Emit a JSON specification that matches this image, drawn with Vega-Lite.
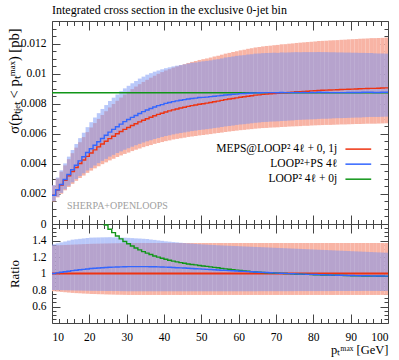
{
"$schema":"https://vega.github.io/schema/vega-lite/v6.json",
"padding":{"left":5,"top":3,"right":13,"bottom":7},
"spacing":0,
"bounds":"flush",
"config":{"font":"Liberation Serif","view":{"stroke":null},"axis":{"domainColor":"#444","tickColor":"#444","labelFont":"Liberation Serif","labelFontSize":11.5,"labelColor":"#000","grid":false,"titleFont":"Liberation Serif","titleFontWeight":"normal","titleColor":"#000","titleFontSize":12,"zindex":1},"text":{"font":"Liberation Serif"}},
"datasets":{"h":[
{"x":10,"x2":11,"r":0.00191,"b":0.00191,"g":0.00873,"rl":0.0015,"rh":0.00256,"bl":0.00153,"bh":0.00259,"qb":1,"qg":4.571,"qrl":0.785,"qrh":1.34,"qbl":0.8,"qbh":1.355},
{"x":11,"x2":12,"r":0.00226,"b":0.00228,"g":0.00873,"rl":0.00177,"rh":0.00303,"bl":0.00181,"bh":0.00309,"qb":1.008,"qg":3.863,"qrl":0.781,"qrh":1.342,"qbl":0.799,"qbh":1.366},
{"x":12,"x2":13,"r":0.00259,"b":0.00263,"g":0.00873,"rl":0.00201,"rh":0.00348,"bl":0.00207,"bh":0.00357,"qb":1.015,"qg":3.371,"qrl":0.777,"qrh":1.344,"qbl":0.798,"qbh":1.377},
{"x":13,"x2":14,"r":0.0029,"b":0.00296,"g":0.00873,"rl":0.00224,"rh":0.0039,"bl":0.00231,"bh":0.00403,"qb":1.022,"qg":3.01,"qrl":0.773,"qrh":1.346,"qbl":0.797,"qbh":1.388},
{"x":14,"x2":15,"r":0.0032,"b":0.00329,"g":0.00873,"rl":0.00246,"rh":0.00431,"bl":0.00255,"bh":0.00448,"qb":1.028,"qg":2.728,"qrl":0.769,"qrh":1.348,"qbl":0.796,"qbh":1.399},
{"x":15,"x2":16,"r":0.00349,"b":0.00361,"g":0.00873,"rl":0.00267,"rh":0.00471,"bl":0.00277,"bh":0.00492,"qb":1.035,"qg":2.501,"qrl":0.765,"qrh":1.35,"qbl":0.795,"qbh":1.41},
{"x":16,"x2":17,"r":0.00376,"b":0.00391,"g":0.00873,"rl":0.00287,"rh":0.00508,"bl":0.00299,"bh":0.00532,"qb":1.04,"qg":2.322,"qrl":0.762,"qrh":1.352,"qbl":0.794,"qbh":1.415},
{"x":17,"x2":18,"r":0.00402,"b":0.0042,"g":0.00873,"rl":0.00306,"rh":0.00544,"bl":0.00319,"bh":0.00571,"qb":1.045,"qg":2.172,"qrl":0.76,"qrh":1.354,"qbl":0.793,"qbh":1.42},
{"x":18,"x2":19,"r":0.00426,"b":0.00447,"g":0.00873,"rl":0.00322,"rh":0.00578,"bl":0.00337,"bh":0.00607,"qb":1.05,"qg":2.049,"qrl":0.757,"qrh":1.356,"qbl":0.792,"qbh":1.425},
{"x":19,"x2":20,"r":0.0045,"b":0.00475,"g":0.00873,"rl":0.0034,"rh":0.00611,"bl":0.00356,"bh":0.00644,"qb":1.055,"qg":1.94,"qrl":0.755,"qrh":1.358,"qbl":0.791,"qbh":1.43},
{"x":20,"x2":21,"r":0.00472,"b":0.005,"g":0.00873,"rl":0.00355,"rh":0.00642,"bl":0.00373,"bh":0.00677,"qb":1.06,"qg":1.85,"qrl":0.752,"qrh":1.36,"qbl":0.79,"qbh":1.435},
{"x":21,"x2":22,"r":0.00493,"b":0.00524,"g":0.00873,"rl":0.0037,"rh":0.00671,"bl":0.00389,"bh":0.00708,"qb":1.063,"qg":1.771,"qrl":0.751,"qrh":1.361,"qbl":0.79,"qbh":1.436},
{"x":22,"x2":23,"r":0.00513,"b":0.00547,"g":0.00873,"rl":0.00384,"rh":0.00699,"bl":0.00405,"bh":0.00737,"qb":1.066,"qg":1.702,"qrl":0.749,"qrh":1.362,"qbl":0.789,"qbh":1.437},
{"x":23,"x2":24,"r":0.00532,"b":0.00569,"g":0.00873,"rl":0.00398,"rh":0.00725,"bl":0.0042,"bh":0.00765,"qb":1.069,"qg":1.641,"qrl":0.748,"qrh":1.363,"qbl":0.789,"qbh":1.438},
{"x":24,"x2":25,"r":0.0055,"b":0.0059,"g":0.00873,"rl":0.0041,"rh":0.0075,"bl":0.00433,"bh":0.00791,"qb":1.072,"qg":1.587,"qrl":0.746,"qrh":1.364,"qbl":0.788,"qbh":1.439},
{"x":25,"x2":26,"r":0.00568,"b":0.00611,"g":0.00873,"rl":0.00423,"rh":0.00775,"bl":0.00448,"bh":0.00818,"qb":1.075,"qg":1.537,"qrl":0.745,"qrh":1.365,"qbl":0.788,"qbh":1.44},
{"x":26,"x2":27,"r":0.00584,"b":0.00629,"g":0.00873,"rl":0.00434,"rh":0.00798,"bl":0.0046,"bh":0.0084,"qb":1.077,"qg":1.495,"qrl":0.744,"qrh":1.366,"qbl":0.787,"qbh":1.438},
{"x":27,"x2":28,"r":0.006,"b":0.00647,"g":0.00873,"rl":0.00446,"rh":0.0082,"bl":0.00472,"bh":0.00862,"qb":1.078,"qg":1.455,"qrl":0.743,"qrh":1.367,"qbl":0.787,"qbh":1.437},
{"x":28,"x2":29,"r":0.00615,"b":0.00664,"g":0.00873,"rl":0.00456,"rh":0.00841,"bl":0.00483,"bh":0.00883,"qb":1.08,"qg":1.42,"qrl":0.742,"qrh":1.368,"qbl":0.786,"qbh":1.435},
{"x":29,"x2":30,"r":0.00629,"b":0.00681,"g":0.00873,"rl":0.00466,"rh":0.00861,"bl":0.00494,"bh":0.00902,"qb":1.082,"qg":1.388,"qrl":0.741,"qrh":1.369,"qbl":0.786,"qbh":1.434},
{"x":30,"x2":31,"r":0.00642,"b":0.00695,"g":0.00873,"rl":0.00475,"rh":0.0088,"bl":0.00504,"bh":0.00919,"qb":1.083,"qg":1.36,"qrl":0.74,"qrh":1.37,"qbl":0.785,"qbh":1.432},
{"x":31,"x2":32,"r":0.00655,"b":0.00709,"g":0.00873,"rl":0.00485,"rh":0.00897,"bl":0.00514,"bh":0.00936,"qb":1.083,"qg":1.333,"qrl":0.74,"qrh":1.37,"qbl":0.785,"qbh":1.429},
{"x":32,"x2":33,"r":0.00667,"b":0.00722,"g":0.00873,"rl":0.00494,"rh":0.00914,"bl":0.00524,"bh":0.00951,"qb":1.083,"qg":1.309,"qrl":0.74,"qrh":1.37,"qbl":0.785,"qbh":1.426},
{"x":33,"x2":34,"r":0.00679,"b":0.00735,"g":0.00873,"rl":0.00502,"rh":0.0093,"bl":0.00533,"bh":0.00967,"qb":1.083,"qg":1.286,"qrl":0.74,"qrh":1.37,"qbl":0.785,"qbh":1.424},
{"x":34,"x2":35,"r":0.0069,"b":0.00747,"g":0.00873,"rl":0.00511,"rh":0.00945,"bl":0.00542,"bh":0.0098,"qb":1.083,"qg":1.265,"qrl":0.74,"qrh":1.37,"qbl":0.785,"qbh":1.421},
{"x":35,"x2":36,"r":0.007,"b":0.00758,"g":0.00873,"rl":0.00518,"rh":0.00959,"bl":0.0055,"bh":0.00993,"qb":1.083,"qg":1.247,"qrl":0.74,"qrh":1.37,"qbl":0.785,"qbh":1.418},
{"x":36,"x2":37,"r":0.0071,"b":0.00768,"g":0.00873,"rl":0.00525,"rh":0.00973,"bl":0.00557,"bh":0.01003,"qb":1.082,"qg":1.23,"qrl":0.74,"qrh":1.37,"qbl":0.785,"qbh":1.412},
{"x":37,"x2":38,"r":0.0072,"b":0.00778,"g":0.00873,"rl":0.00533,"rh":0.00986,"bl":0.00565,"bh":0.01013,"qb":1.081,"qg":1.213,"qrl":0.74,"qrh":1.37,"qbl":0.785,"qbh":1.407},
{"x":38,"x2":39,"r":0.00729,"b":0.00787,"g":0.00873,"rl":0.00539,"rh":0.00999,"bl":0.00572,"bh":0.01021,"qb":1.08,"qg":1.198,"qrl":0.74,"qrh":1.37,"qbl":0.785,"qbh":1.401},
{"x":39,"x2":40,"r":0.00737,"b":0.00794,"g":0.00873,"rl":0.00545,"rh":0.0101,"bl":0.00579,"bh":0.01029,"qb":1.078,"qg":1.185,"qrl":0.74,"qrh":1.37,"qbl":0.785,"qbh":1.396},
{"x":40,"x2":41,"r":0.00745,"b":0.00802,"g":0.00873,"rl":0.00551,"rh":0.01021,"bl":0.00585,"bh":0.01036,"qb":1.077,"qg":1.172,"qrl":0.74,"qrh":1.37,"qbl":0.785,"qbh":1.39},
{"x":41,"x2":42,"r":0.00752,"b":0.00808,"g":0.00873,"rl":0.00556,"rh":0.0103,"bl":0.0059,"bh":0.01042,"qb":1.075,"qg":1.161,"qrl":0.74,"qrh":1.37,"qbl":0.785,"qbh":1.386},
{"x":42,"x2":43,"r":0.00759,"b":0.00814,"g":0.00873,"rl":0.00562,"rh":0.0104,"bl":0.00596,"bh":0.01048,"qb":1.073,"qg":1.15,"qrl":0.74,"qrh":1.37,"qbl":0.785,"qbh":1.381},
{"x":43,"x2":44,"r":0.00765,"b":0.00819,"g":0.00873,"rl":0.00566,"rh":0.01048,"bl":0.00601,"bh":0.01053,"qb":1.07,"qg":1.141,"qrl":0.74,"qrh":1.37,"qbl":0.785,"qbh":1.377},
{"x":44,"x2":45,"r":0.00771,"b":0.00823,"g":0.00873,"rl":0.00571,"rh":0.01056,"bl":0.00605,"bh":0.01058,"qb":1.068,"qg":1.132,"qrl":0.74,"qrh":1.37,"qbl":0.785,"qbh":1.372},
{"x":45,"x2":46,"r":0.00776,"b":0.00827,"g":0.00873,"rl":0.00574,"rh":0.01063,"bl":0.00609,"bh":0.01062,"qb":1.066,"qg":1.125,"qrl":0.74,"qrh":1.37,"qbl":0.785,"qbh":1.368},
{"x":46,"x2":47,"r":0.00782,"b":0.00831,"g":0.00873,"rl":0.00579,"rh":0.01071,"bl":0.00614,"bh":0.01067,"qb":1.063,"qg":1.116,"qrl":0.74,"qrh":1.37,"qbl":0.785,"qbh":1.365},
{"x":47,"x2":48,"r":0.00787,"b":0.00835,"g":0.00873,"rl":0.00582,"rh":0.01078,"bl":0.00618,"bh":0.01072,"qb":1.061,"qg":1.109,"qrl":0.74,"qrh":1.37,"qbl":0.785,"qbh":1.362},
{"x":48,"x2":49,"r":0.00791,"b":0.00837,"g":0.00873,"rl":0.00585,"rh":0.01084,"bl":0.00621,"bh":0.01074,"qb":1.058,"qg":1.104,"qrl":0.74,"qrh":1.37,"qbl":0.785,"qbh":1.358},
{"x":49,"x2":50,"r":0.00796,"b":0.00841,"g":0.00873,"rl":0.00589,"rh":0.01091,"bl":0.00625,"bh":0.01079,"qb":1.056,"qg":1.097,"qrl":0.74,"qrh":1.37,"qbl":0.785,"qbh":1.355},
{"x":50,"x2":51,"r":0.008,"b":0.00842,"g":0.00873,"rl":0.00592,"rh":0.01096,"bl":0.00628,"bh":0.01082,"qb":1.053,"qg":1.091,"qrl":0.74,"qrh":1.37,"qbl":0.785,"qbh":1.352},
{"x":51,"x2":52,"r":0.00804,"b":0.00844,"g":0.00873,"rl":0.00595,"rh":0.01101,"bl":0.00631,"bh":0.01085,"qb":1.05,"qg":1.086,"qrl":0.74,"qrh":1.37,"qbl":0.785,"qbh":1.35},
{"x":52,"x2":53,"r":0.00808,"b":0.00847,"g":0.00873,"rl":0.00598,"rh":0.01107,"bl":0.00634,"bh":0.01088,"qb":1.048,"qg":1.08,"qrl":0.74,"qrh":1.37,"qbl":0.785,"qbh":1.347},
{"x":53,"x2":54,"r":0.00813,"b":0.0085,"g":0.00873,"rl":0.00602,"rh":0.01114,"bl":0.00638,"bh":0.01093,"qb":1.045,"qg":1.074,"qrl":0.74,"qrh":1.37,"qbl":0.785,"qbh":1.345},
{"x":54,"x2":55,"r":0.00817,"b":0.00852,"g":0.00873,"rl":0.00605,"rh":0.01119,"bl":0.00641,"bh":0.01096,"qb":1.043,"qg":1.069,"qrl":0.74,"qrh":1.37,"qbl":0.785,"qbh":1.342},
{"x":55,"x2":56,"r":0.00822,"b":0.00855,"g":0.00873,"rl":0.00608,"rh":0.01126,"bl":0.00645,"bh":0.01101,"qb":1.04,"qg":1.062,"qrl":0.74,"qrh":1.37,"qbl":0.785,"qbh":1.34},
{"x":56,"x2":57,"r":0.00827,"b":0.00858,"g":0.00873,"rl":0.00612,"rh":0.01133,"bl":0.00649,"bh":0.01107,"qb":1.038,"qg":1.056,"qrl":0.74,"qrh":1.37,"qbl":0.785,"qbh":1.338},
{"x":57,"x2":58,"r":0.00831,"b":0.0086,"g":0.00873,"rl":0.00615,"rh":0.01138,"bl":0.00652,"bh":0.0111,"qb":1.035,"qg":1.051,"qrl":0.74,"qrh":1.37,"qbl":0.785,"qbh":1.336},
{"x":58,"x2":59,"r":0.00835,"b":0.00863,"g":0.00873,"rl":0.00618,"rh":0.01144,"bl":0.00655,"bh":0.01114,"qb":1.033,"qg":1.046,"qrl":0.74,"qrh":1.37,"qbl":0.785,"qbh":1.334},
{"x":59,"x2":60,"r":0.00839,"b":0.00864,"g":0.00873,"rl":0.00621,"rh":0.01149,"bl":0.00659,"bh":0.01118,"qb":1.03,"qg":1.041,"qrl":0.74,"qrh":1.37,"qbl":0.785,"qbh":1.332},
{"x":60,"x2":61,"r":0.00843,"b":0.00867,"g":0.00873,"rl":0.00624,"rh":0.01155,"bl":0.00662,"bh":0.01121,"qb":1.028,"qg":1.036,"qrl":0.74,"qrh":1.37,"qbl":0.785,"qbh":1.33},
{"x":61,"x2":62,"r":0.00846,"b":0.00868,"g":0.00873,"rl":0.00626,"rh":0.01159,"bl":0.00664,"bh":0.01123,"qb":1.026,"qg":1.032,"qrl":0.74,"qrh":1.37,"qbl":0.785,"qbh":1.328},
{"x":62,"x2":63,"r":0.0085,"b":0.0087,"g":0.00873,"rl":0.00629,"rh":0.01165,"bl":0.00667,"bh":0.01127,"qb":1.023,"qg":1.027,"qrl":0.74,"qrh":1.37,"qbl":0.785,"qbh":1.326},
{"x":63,"x2":64,"r":0.00853,"b":0.00871,"g":0.00873,"rl":0.00631,"rh":0.01169,"bl":0.0067,"bh":0.01129,"qb":1.021,"qg":1.023,"qrl":0.74,"qrh":1.37,"qbl":0.785,"qbh":1.324},
{"x":64,"x2":65,"r":0.00857,"b":0.00872,"g":0.00873,"rl":0.00634,"rh":0.01174,"bl":0.00673,"bh":0.01133,"qb":1.018,"qg":1.019,"qrl":0.74,"qrh":1.37,"qbl":0.785,"qbh":1.322},
{"x":65,"x2":66,"r":0.00859,"b":0.00873,"g":0.00873,"rl":0.00636,"rh":0.01177,"bl":0.00675,"bh":0.01134,"qb":1.016,"qg":1.016,"qrl":0.74,"qrh":1.37,"qbl":0.786,"qbh":1.32},
{"x":66,"x2":67,"r":0.00862,"b":0.00874,"g":0.00873,"rl":0.00638,"rh":0.01181,"bl":0.00678,"bh":0.01136,"qb":1.014,"qg":1.013,"qrl":0.74,"qrh":1.37,"qbl":0.786,"qbh":1.318},
{"x":67,"x2":68,"r":0.00864,"b":0.00874,"g":0.00873,"rl":0.00639,"rh":0.01184,"bl":0.00679,"bh":0.01137,"qb":1.012,"qg":1.01,"qrl":0.74,"qrh":1.37,"qbl":0.786,"qbh":1.316},
{"x":68,"x2":69,"r":0.00866,"b":0.00874,"g":0.00873,"rl":0.00641,"rh":0.01186,"bl":0.00681,"bh":0.01138,"qb":1.009,"qg":1.008,"qrl":0.74,"qrh":1.37,"qbl":0.786,"qbh":1.314},
{"x":69,"x2":70,"r":0.00868,"b":0.00874,"g":0.00873,"rl":0.00642,"rh":0.01189,"bl":0.00682,"bh":0.01139,"qb":1.007,"qg":1.006,"qrl":0.74,"qrh":1.37,"qbl":0.786,"qbh":1.312},
{"x":70,"x2":71,"r":0.00869,"b":0.00873,"g":0.00873,"rl":0.00643,"rh":0.01191,"bl":0.00683,"bh":0.01138,"qb":1.005,"qg":1.005,"qrl":0.74,"qrh":1.37,"qbl":0.786,"qbh":1.31},
{"x":71,"x2":72,"r":0.00872,"b":0.00875,"g":0.00873,"rl":0.00645,"rh":0.01195,"bl":0.00685,"bh":0.01141,"qb":1.003,"qg":1.001,"qrl":0.74,"qrh":1.37,"qbl":0.786,"qbh":1.308},
{"x":72,"x2":73,"r":0.00873,"b":0.00874,"g":0.00873,"rl":0.00646,"rh":0.01196,"bl":0.00686,"bh":0.0114,"qb":1.001,"qg":1,"qrl":0.74,"qrh":1.37,"qbl":0.786,"qbh":1.306},
{"x":73,"x2":74,"r":0.00875,"b":0.00874,"g":0.00873,"rl":0.00648,"rh":0.01199,"bl":0.00688,"bh":0.01141,"qb":0.999,"qg":0.998,"qrl":0.74,"qrh":1.37,"qbl":0.786,"qbh":1.304},
{"x":74,"x2":75,"r":0.00877,"b":0.00874,"g":0.00873,"rl":0.00649,"rh":0.01201,"bl":0.00689,"bh":0.01142,"qb":0.997,"qg":0.995,"qrl":0.74,"qrh":1.37,"qbl":0.786,"qbh":1.302},
{"x":75,"x2":76,"r":0.00879,"b":0.00875,"g":0.00873,"rl":0.0065,"rh":0.01204,"bl":0.00692,"bh":0.01143,"qb":0.995,"qg":0.993,"qrl":0.74,"qrh":1.37,"qbl":0.787,"qbh":1.3},
{"x":76,"x2":77,"r":0.0088,"b":0.00874,"g":0.00873,"rl":0.00651,"rh":0.01206,"bl":0.00693,"bh":0.01142,"qb":0.993,"qg":0.992,"qrl":0.74,"qrh":1.37,"qbl":0.787,"qbh":1.298},
{"x":77,"x2":78,"r":0.00882,"b":0.00875,"g":0.00873,"rl":0.00653,"rh":0.01208,"bl":0.00694,"bh":0.01143,"qb":0.992,"qg":0.99,"qrl":0.74,"qrh":1.37,"qbl":0.787,"qbh":1.296},
{"x":78,"x2":79,"r":0.00883,"b":0.00874,"g":0.00873,"rl":0.00653,"rh":0.0121,"bl":0.00695,"bh":0.01143,"qb":0.99,"qg":0.989,"qrl":0.74,"qrh":1.37,"qbl":0.787,"qbh":1.294},
{"x":79,"x2":80,"r":0.00885,"b":0.00875,"g":0.00873,"rl":0.00655,"rh":0.01212,"bl":0.00696,"bh":0.01143,"qb":0.989,"qg":0.986,"qrl":0.74,"qrh":1.37,"qbl":0.787,"qbh":1.292},
{"x":80,"x2":81,"r":0.00886,"b":0.00874,"g":0.00873,"rl":0.00656,"rh":0.01214,"bl":0.00697,"bh":0.01143,"qb":0.987,"qg":0.985,"qrl":0.74,"qrh":1.37,"qbl":0.787,"qbh":1.29},
{"x":81,"x2":82,"r":0.00888,"b":0.00876,"g":0.00873,"rl":0.00657,"rh":0.01217,"bl":0.00699,"bh":0.01144,"qb":0.986,"qg":0.983,"qrl":0.74,"qrh":1.37,"qbl":0.787,"qbh":1.288},
{"x":82,"x2":83,"r":0.00889,"b":0.00875,"g":0.00873,"rl":0.00658,"rh":0.01218,"bl":0.007,"bh":0.01143,"qb":0.984,"qg":0.982,"qrl":0.74,"qrh":1.37,"qbl":0.787,"qbh":1.286},
{"x":83,"x2":84,"r":0.0089,"b":0.00875,"g":0.00873,"rl":0.00659,"rh":0.01219,"bl":0.007,"bh":0.01143,"qb":0.983,"qg":0.981,"qrl":0.74,"qrh":1.37,"qbl":0.787,"qbh":1.284},
{"x":84,"x2":85,"r":0.00891,"b":0.00874,"g":0.00873,"rl":0.00659,"rh":0.01221,"bl":0.00701,"bh":0.01142,"qb":0.981,"qg":0.98,"qrl":0.74,"qrh":1.37,"qbl":0.787,"qbh":1.282},
{"x":85,"x2":86,"r":0.00892,"b":0.00874,"g":0.00873,"rl":0.0066,"rh":0.01222,"bl":0.00703,"bh":0.01142,"qb":0.98,"qg":0.979,"qrl":0.74,"qrh":1.37,"qbl":0.788,"qbh":1.28},
{"x":86,"x2":87,"r":0.00893,"b":0.00874,"g":0.00873,"rl":0.00661,"rh":0.01223,"bl":0.00704,"bh":0.01141,"qb":0.979,"qg":0.978,"qrl":0.74,"qrh":1.37,"qbl":0.788,"qbh":1.278},
{"x":87,"x2":88,"r":0.00894,"b":0.00874,"g":0.00873,"rl":0.00662,"rh":0.01225,"bl":0.00704,"bh":0.01141,"qb":0.978,"qg":0.977,"qrl":0.74,"qrh":1.37,"qbl":0.788,"qbh":1.276},
{"x":88,"x2":89,"r":0.00895,"b":0.00874,"g":0.00873,"rl":0.00662,"rh":0.01226,"bl":0.00705,"bh":0.0114,"qb":0.977,"qg":0.975,"qrl":0.74,"qrh":1.37,"qbl":0.788,"qbh":1.274},
{"x":89,"x2":90,"r":0.00896,"b":0.00875,"g":0.00873,"rl":0.00663,"rh":0.01228,"bl":0.00706,"bh":0.0114,"qb":0.976,"qg":0.974,"qrl":0.74,"qrh":1.37,"qbl":0.788,"qbh":1.272},
{"x":90,"x2":91,"r":0.00897,"b":0.00875,"g":0.00873,"rl":0.00664,"rh":0.01229,"bl":0.00707,"bh":0.01139,"qb":0.975,"qg":0.973,"qrl":0.74,"qrh":1.37,"qbl":0.788,"qbh":1.27},
{"x":91,"x2":92,"r":0.00898,"b":0.00875,"g":0.00873,"rl":0.00665,"rh":0.0123,"bl":0.00708,"bh":0.01139,"qb":0.974,"qg":0.972,"qrl":0.74,"qrh":1.37,"qbl":0.788,"qbh":1.268},
{"x":92,"x2":93,"r":0.00899,"b":0.00875,"g":0.00873,"rl":0.00665,"rh":0.01232,"bl":0.00708,"bh":0.01138,"qb":0.973,"qg":0.971,"qrl":0.74,"qrh":1.37,"qbl":0.788,"qbh":1.266},
{"x":93,"x2":94,"r":0.009,"b":0.00876,"g":0.00873,"rl":0.00666,"rh":0.01233,"bl":0.0071,"bh":0.01138,"qb":0.973,"qg":0.97,"qrl":0.74,"qrh":1.37,"qbl":0.789,"qbh":1.264},
{"x":94,"x2":95,"r":0.00901,"b":0.00876,"g":0.00873,"rl":0.00667,"rh":0.01234,"bl":0.00711,"bh":0.01137,"qb":0.972,"qg":0.969,"qrl":0.74,"qrh":1.37,"qbl":0.789,"qbh":1.262},
{"x":95,"x2":96,"r":0.00902,"b":0.00876,"g":0.00873,"rl":0.00667,"rh":0.01236,"bl":0.00712,"bh":0.01137,"qb":0.971,"qg":0.968,"qrl":0.74,"qrh":1.37,"qbl":0.789,"qbh":1.26},
{"x":96,"x2":97,"r":0.00902,"b":0.00875,"g":0.00873,"rl":0.00667,"rh":0.01236,"bl":0.00712,"bh":0.01135,"qb":0.97,"qg":0.968,"qrl":0.74,"qrh":1.37,"qbl":0.789,"qbh":1.258},
{"x":97,"x2":98,"r":0.00903,"b":0.00875,"g":0.00873,"rl":0.00668,"rh":0.01237,"bl":0.00712,"bh":0.01134,"qb":0.969,"qg":0.967,"qrl":0.74,"qrh":1.37,"qbl":0.789,"qbh":1.256},
{"x":98,"x2":99,"r":0.00904,"b":0.00876,"g":0.00873,"rl":0.00669,"rh":0.01238,"bl":0.00713,"bh":0.01134,"qb":0.969,"qg":0.966,"qrl":0.74,"qrh":1.37,"qbl":0.789,"qbh":1.254},
{"x":99,"x2":100,"r":0.00905,"b":0.00876,"g":0.00873,"rl":0.0067,"rh":0.0124,"bl":0.00714,"bh":0.01133,"qb":0.968,"qg":0.965,"qrl":0.74,"qrh":1.37,"qbl":0.789,"qbh":1.252},
{"x":100,"x2":101,"r":0.00905,"b":0.00876,"g":0.00873,"rl":0.0067,"rh":0.0124,"bl":0.00714,"bh":0.01133,"qb":0.968,"qg":0.965,"qrl":0.74,"qrh":1.37,"qbl":0.789,"qbh":1.252}
]},
"vconcat":[
{
"width":336,"height":203,
"title":{"text":"Integrated cross section in the exclusive 0-jet bin","anchor":"start","frame":"group","fontSize":12,"fontWeight":"normal","font":"Liberation Serif","color":"#000","offset":4},
"data":{"name":"h"},
"layer":[
{"mark":{"type":"rect","color":"#F8B4A5","clip":true},
 "encoding":{
  "x":{"field":"x","type":"quantitative","scale":{"domain":[10,100],"nice":false,"zero":false},"axis":{"orient":"bottom","values":[10,20,30,40,50,60,70,80,90,100],"tickSize":-9,"labels":false,"title":null}},
  "x2":{"field":"x2"},
  "y":{"field":"rl","type":"quantitative","scale":{"domain":[0,0.0135],"nice":false},"axis":{"orient":"left","values":[0,0.002,0.004,0.006,0.008,0.01,0.012],"tickSize":-8,"labelPadding":14,"labelFont":"Liberation Serif","labelFontSize":11.5,"format":".3~f","title":"σ(pₜⱼₑₜ < pₜᵐᵃˣ) [pb]","titleFont":"Liberation Serif","titleFontSize":14.5,"titleX":-38,"titleY":7,"titleAlign":"right","titleBaseline":"middle"}},
  "y2":{"field":"rh"}}},
{"mark":{"type":"rect","color":"#7391F5","opacity":0.5,"clip":true},
 "encoding":{
  "x":{"field":"x","type":"quantitative","axis":{"orient":"bottom","values":[12,14,16,18,22,24,26,28,32,34,36,38,42,44,46,48,52,54,56,58,62,64,66,68,72,74,76,78,82,84,86,88,92,94,96,98],"tickSize":-4.5,"labels":false,"domain":false,"title":null}},
  "x2":{"field":"x2"},
  "y":{"field":"bl","type":"quantitative","axis":{"orient":"left","values":[0.0005,0.001,0.0015,0.0025,0.003,0.0035,0.0045,0.005,0.0055,0.0065,0.007,0.0075,0.0085,0.009,0.0095,0.0105,0.011,0.0115,0.0125,0.013],"tickSize":-4,"labels":false,"domain":false,"title":null}},
  "y2":{"field":"bh"}}},
{"mark":{"type":"line","interpolate":"step-after","strokeWidth":1.4,"color":"#109618","clip":true},
 "encoding":{
  "x":{"field":"x","type":"quantitative","axis":{"orient":"top","values":[10,20,30,40,50,60,70,80,90,100],"tickSize":-9,"labels":false,"title":null}},
  "y":{"field":"g","type":"quantitative","axis":{"orient":"right","values":[0,0.002,0.004,0.006,0.008,0.01,0.012],"tickSize":-8,"labels":false,"title":null}}}},
{"mark":{"type":"line","interpolate":"step-after","strokeWidth":1.4,"color":"#EE3311","clip":true},
 "encoding":{
  "x":{"field":"x","type":"quantitative","axis":{"orient":"top","values":[12,14,16,18,22,24,26,28,32,34,36,38,42,44,46,48,52,54,56,58,62,64,66,68,72,74,76,78,82,84,86,88,92,94,96,98],"tickSize":-4.5,"labels":false,"domain":false,"title":null}},
  "y":{"field":"r","type":"quantitative","axis":{"orient":"right","values":[0.0005,0.001,0.0015,0.0025,0.003,0.0035,0.0045,0.005,0.0055,0.0065,0.007,0.0075,0.0085,0.009,0.0095,0.0105,0.011,0.0115,0.0125,0.013],"tickSize":-4,"labels":false,"domain":false,"title":null}}}},
{"mark":{"type":"line","interpolate":"step-after","strokeWidth":1.4,"color":"#3366FF","clip":true},
 "encoding":{
  "x":{"field":"x","type":"quantitative","axis":null},
  "y":{"field":"b","type":"quantitative","axis":null}}},
{"data":{"values":[{}]},
 "mark":{"type":"text","text":"SHERPA+OPENLOOPS","align":"left","baseline":"middle","fontSize":10,"color":"#a0a0a0","font":"Liberation Serif"},
 "encoding":{"x":{"datum":14,"type":"quantitative","axis":null},"y":{"datum":0.00118,"type":"quantitative","axis":null}}},
{"data":{"values":[{}]},
 "mark":{"type":"text","text":"MEPS@LOOP² 4ℓ + 0, 1j","align":"right","baseline":"middle","fontSize":11.5,"color":"#000","font":"Liberation Serif"},
 "encoding":{"x":{"datum":86.4,"type":"quantitative","axis":null},"y":{"datum":0.00498,"type":"quantitative","axis":null}}},
{"data":{"values":[{}]},
 "mark":{"type":"text","text":"LOOP²+PS 4ℓ","align":"right","baseline":"middle","fontSize":11.5,"color":"#000","font":"Liberation Serif"},
 "encoding":{"x":{"datum":86.4,"type":"quantitative","axis":null},"y":{"datum":0.00398,"type":"quantitative","axis":null}}},
{"data":{"values":[{}]},
 "mark":{"type":"text","text":"LOOP² 4ℓ + 0j","align":"right","baseline":"middle","fontSize":11.5,"color":"#000","font":"Liberation Serif"},
 "encoding":{"x":{"datum":86.4,"type":"quantitative","axis":null},"y":{"datum":0.00298,"type":"quantitative","axis":null}}},
{"data":{"values":[{}]},
 "mark":{"type":"rule","color":"#EE3311","strokeWidth":1.5},
 "encoding":{"x":{"datum":88.6,"type":"quantitative","axis":null},"x2":{"datum":95.5},"y":{"datum":0.00498,"type":"quantitative","axis":null}}},
{"data":{"values":[{}]},
 "mark":{"type":"rule","color":"#3366FF","strokeWidth":1.5},
 "encoding":{"x":{"datum":88.6,"type":"quantitative","axis":null},"x2":{"datum":95.5},"y":{"datum":0.00398,"type":"quantitative","axis":null}}},
{"data":{"values":[{}]},
 "mark":{"type":"rule","color":"#109618","strokeWidth":1.5},
 "encoding":{"x":{"datum":88.6,"type":"quantitative","axis":null},"x2":{"datum":95.5},"y":{"datum":0.00298,"type":"quantitative","axis":null}}}
],
"resolve":{"axis":{"x":"independent","y":"independent"}}
},
{
"width":336,"height":99,
"data":{"name":"h"},
"layer":[
{"mark":{"type":"rect","color":"#F8B4A5","clip":true},
 "encoding":{
  "x":{"field":"x","type":"quantitative","scale":{"domain":[10,100],"nice":false,"zero":false},"axis":{"orient":"bottom","values":[10,20,30,40,50,60,70,80,90,100],"tickSize":-9,"labelPadding":17,"labelFont":"Liberation Serif","labelFontSize":11.5,"title":"pₜᵐᵃˣ [GeV]","titleFont":"Liberation Serif","titleAnchor":"end","titleAlign":"right","titlePadding":1,"titleFontSize":12.5}},
  "x2":{"field":"x2"},
  "y":{"field":"qrl","type":"quantitative","scale":{"domain":[0.4,1.6],"nice":false,"zero":false},"axis":{"orient":"left","values":[0.6,0.8,1,1.2,1.4],"tickSize":-8,"labelPadding":14,"labelFont":"Liberation Serif","labelFontSize":11.5,"format":".1~f","title":"Ratio","titleFont":"Liberation Serif","titleFontSize":13,"titleX":-38,"titleBaseline":"middle"}},
  "y2":{"field":"qrh"}}},
{"mark":{"type":"rect","color":"#7391F5","opacity":0.5,"clip":true},
 "encoding":{
  "x":{"field":"x","type":"quantitative","axis":{"orient":"bottom","values":[12,14,16,18,22,24,26,28,32,34,36,38,42,44,46,48,52,54,56,58,62,64,66,68,72,74,76,78,82,84,86,88,92,94,96,98],"tickSize":-4.5,"labels":false,"domain":false,"title":null}},
  "x2":{"field":"x2"},
  "y":{"field":"qbl","type":"quantitative","axis":{"orient":"left","values":[0.45,0.5,0.55,0.65,0.7,0.75,0.85,0.9,0.95,1.05,1.1,1.15,1.25,1.3,1.35,1.45,1.5,1.55],"tickSize":-4,"labels":false,"domain":false,"title":null}},
  "y2":{"field":"qbh"}}},
{"data":{"values":[{}]},
 "mark":{"type":"rule","color":"#EE3311","strokeWidth":2},
 "encoding":{"y":{"datum":1,"type":"quantitative","axis":null}}},
{"mark":{"type":"line","interpolate":"step-after","strokeWidth":1.4,"color":"#109618","clip":true},
 "encoding":{
  "x":{"field":"x","type":"quantitative","axis":{"orient":"top","values":[10,20,30,40,50,60,70,80,90,100],"tickSize":-9,"labels":false,"title":null}},
  "y":{"field":"qg","type":"quantitative","axis":{"orient":"right","values":[0.6,0.8,1,1.2,1.4],"tickSize":-8,"labels":false,"title":null}}}},
{"mark":{"type":"line","interpolate":"step-after","strokeWidth":1.4,"color":"#3366FF","clip":true},
 "encoding":{
  "x":{"field":"x","type":"quantitative","axis":{"orient":"top","values":[12,14,16,18,22,24,26,28,32,34,36,38,42,44,46,48,52,54,56,58,62,64,66,68,72,74,76,78,82,84,86,88,92,94,96,98],"tickSize":-4.5,"labels":false,"domain":false,"title":null}},
  "y":{"field":"qb","type":"quantitative","axis":{"orient":"right","values":[0.45,0.5,0.55,0.65,0.7,0.75,0.85,0.9,0.95,1.05,1.1,1.15,1.25,1.3,1.35,1.45,1.5,1.55],"tickSize":-4,"labels":false,"domain":false,"title":null}}}}
],
"resolve":{"axis":{"x":"independent","y":"independent"}}
}
]
}
